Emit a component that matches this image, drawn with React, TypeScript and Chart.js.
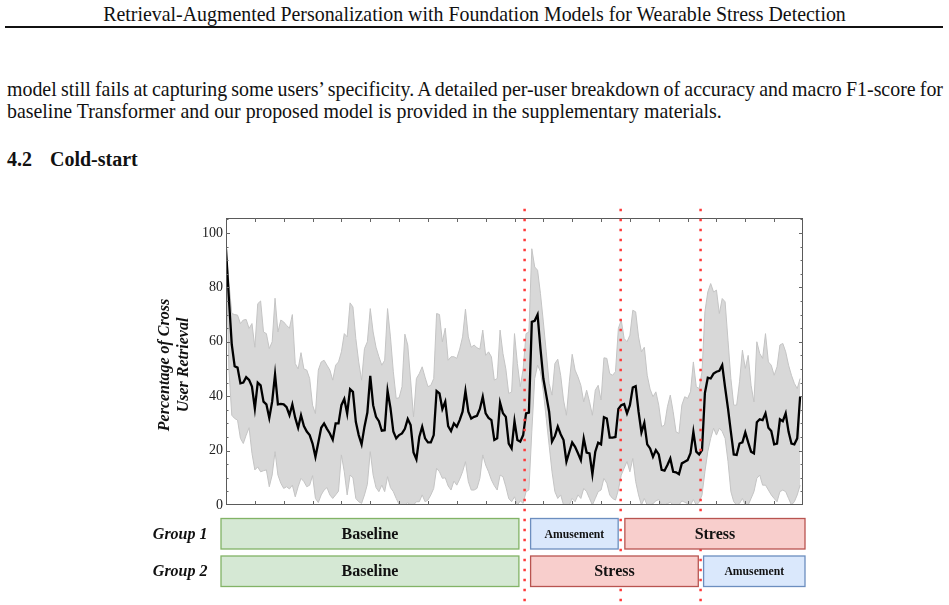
import { useEffect, useRef } from "react";
import { Chart, registerables } from "chart.js";

Chart.register(...registerables);

// Mean share of cross-user retrieval per window, with its spread band.
const meanRetrieval = [
  94, 76, 59, 51, 50.5, 44.7, 45, 47, 46, 43.5,
  35.5, 45, 44, 38, 37, 32, 38, 48, 37, 37.2,
  37, 36, 33, 37, 32, 28.4, 33, 29, 27, 25.7,
  22.6, 17.7, 23, 28.4, 30, 28, 26.3, 24, 30, 30,
  36.7, 39, 33.6, 42.6, 41.6, 30.6, 25.7, 22.3, 28.8, 34,
  47.5, 36.7, 32.4, 30.8, 27.3, 27.5, 42, 35.7, 27, 24.5,
  25.7, 26.3, 28, 31.6, 29.4, 19.3, 16.8, 25, 28.8, 24.5,
  23, 23, 25.7, 41.9, 41, 35.3, 38, 29, 27.2, 30,
  28.8, 31.2, 34.3, 41.9, 34.3, 31.8, 32.4, 32.8, 35.3, 39.8,
  33.7, 32, 31.2, 23.9, 24.5, 37.6, 33.7, 32.4, 22.6, 20.8,
  30.8, 23.9, 23.3, 25.7, 33.7, 34,
  67.3, 67.7, 70, 57.5, 46.5, 40.4, 34.3, 23.3, 25.3, 28.8,
  26, 23.9, 16, 19.5, 23, 21.4, 19, 16.5, 24.5, 19.3,
  19, 11.3, 19.6, 22.9, 22.3, 32.3, 31.8, 24.8, 24.8, 25,
  35.3, 36.7, 37.1, 33.7, 36.7, 43.2, 43.7, 34.3, 26.7, 30.2,
  22.3, 20.8, 17.7, 20.2, 18.6, 12.9, 12.6, 14.7, 17.1, 12.2,
  12, 11.3, 15.3, 15.9, 16.5, 19, 26.9, 19.6, 18.6, 20.2,
  41.2, 46.8, 46.5, 48.3, 49, 49.3, 51.4, 43.2, 35.5, 26.9,
  18.6, 18.4, 22.6, 23, 26.7, 23, 19.6, 19, 30.4, 31.5,
  31.2, 33.7, 28.4, 27.2, 22.3, 22.6, 31.5, 30.8, 33.7, 26.9,
  22.6, 22.3, 24.5, 39.8,
];

const upperBand = [
  94, 82, 70.4, 70, 69.8, 66.7, 68, 68.2, 64.9, 66.7,
  58, 74, 75, 63.6, 63, 57.5, 60, 76, 63.6, 68,
  67.3, 66, 65, 70, 52, 50, 56, 50, 49.6, 46.5,
  36.7, 33.6, 49.6, 52.6, 53.2, 51.4, 49.6, 45.9, 51.4, 52.6,
  56.3, 63, 61.8, 74.3, 72.8, 61.2, 52.6, 45.9, 57.5, 60,
  72.2, 63.6, 58, 54.5, 51.4, 53.2, 72.2, 61.8, 49, 39.2,
  39.4, 43.5, 62.8, 58.8, 45.9, 32.4, 46.5, 48.3, 50.8, 47,
  43.5, 44, 46.5, 70.4, 70, 60, 65, 53.2, 54.5, 54.5,
  53.9, 57.3, 61.8, 72, 61.8, 58, 58.8, 57.8, 57.3, 64.3,
  55, 56.3, 54.5, 45.9, 46.5, 64.3, 55.7, 50, 41, 41.6,
  63, 52, 43.5, 50, 63, 63.6,
  94.2, 87.5, 86.3, 77.7, 67.3, 56.3, 44.7, 40.4, 52, 53.6,
  47.7, 38.6, 33, 45.3, 55.4, 49.6, 47.1, 44, 37.9, 42.2,
  38, 33, 42.2, 44, 38.6, 54.1, 53.9, 48.3, 47.7, 49,
  64.9, 68, 61.2, 60, 62.4, 71.6, 71, 61.8, 56.3, 58,
  47.7, 42.6, 39.8, 41.6, 36.7, 28.8, 29.4, 36.1, 40.4, 34.3,
  26.9, 26.3, 36.7, 39.8, 39.2, 41.6, 52.6, 43.5, 42.8, 49,
  71, 78.3, 81.4, 78.3, 79, 70.4, 75.9, 74.7, 60.6, 46.5,
  36.7, 36.7, 45.3, 56.9, 50.2, 55, 44, 37.9, 60, 55.7,
  53.9, 63, 52.6, 51.4, 47.7, 50.8, 58.8, 59.4, 56.3, 51.4,
  47.7, 44.7, 42.8, 46.5,
];

const lowerBand = [
  94, 50, 33, 31.8, 31.2, 24.5, 22.6, 25.7, 28.4, 19,
  12.9, 14, 12.2, 12.6, 12.9, 6.7, 11, 19.6, 11, 8,
  6.1, 6.7, 5.9, 7.3, 3, 6.7, 9.8, 8.6, 6.7, 7.3,
  10.8, 2.4, 0.9, 3.7, 5.5, 6.4, 3.7, 2.4, 3.7, 5.1,
  18.4, 12.2, 3.7, 11, 10, 2.4, 1.2, 0.6, 3.7, 7.6,
  19.6, 11, 6.4, 4.9, 7.3, 4.9, 10.4, 6.4, 4.9, 2.4,
  0.2, 0, 0, 0.8, 0, 0, 1.2, 1.2, 3.7, 1.2,
  1.8, 3.7, 6.1, 13.5, 12.2, 9.8, 10, 7, 5.5, 8.8,
  7.3, 9.5, 12.2, 15.9, 8.6, 5.5, 5.5, 6.1, 9.8, 18.4,
  14.7, 12.2, 9.2, 7.1, 5.5, 11, 10.4, 6.7, 2.4, 1.2,
  3, 0, 1.5, 0.6, 4.9, 5.5,
  26.9, 46.5, 51.4, 49, 41.6, 31.8, 22, 12.2, 4.9, 2.4,
  3.7, 0, 0, 0, 2.4, 1.2, 3.7, 2.4, 6.1, 4.9,
  2.4, 0, 2.4, 4.9, 5.5, 9.8, 8, 3.7, 2.4, 1.8,
  5.5, 11, 13.5, 16, 12.2, 17.1, 8.6, 3.7, 0, 2.4,
  0, 0, 0.5, 1.5, 2, 0, 0, 0.5, 1, 0,
  0, 0, 1.5, 1, 0.5, 0, 2, 0, 1, 3.7,
  12.2, 19.6, 24.5, 28.2, 25.7, 28.2, 27, 24.5, 16, 4.9,
  1.2, 0, 0.6, 2.4, 0, 0, 2.4, 4.9, 9.8, 11,
  7.3, 7.3, 5.5, 3.7, 2.4, 1.2, 4.9, 5.5, 4.9, 2.4,
  0, 1.2, 3.7, 7.3,
];

const yTickValues = [0, 20, 40, 60, 80, 100];
const X_MAX = 200;
const Y_MAX = 105.5;

// Window indices where the protocol switches phase.
const phaseBoundaries = [103.5, 136.8, 164.5];

// Each phase spans from one edge to another: 0 = axis start, 1..3 = boundaries, 4 = axis end.
const group1Phases = [
  { label: "Baseline", from: 0, to: 1 },
  { label: "Amusement", from: 1, to: 2 },
  { label: "Stress", from: 2, to: 4 },
];
const group2Phases = [
  { label: "Baseline", from: 0, to: 1 },
  { label: "Stress", from: 1, to: 3 },
  { label: "Amusement", from: 3, to: 4 },
];
const groupNames = ["Group 1", "Group 2"];

const CANVAS_TOP = 200;
const SERIF = '"Liberation Serif", "Times New Roman", serif';

const phaseStyle: Record<string, { fill: string; stroke: string; font: string }> = {
  Baseline: { fill: "#d5e8d4", stroke: "#82b366", font: `bold 16px ${SERIF}` },
  Amusement: { fill: "#dae8fc", stroke: "#6c8ebf", font: `bold 11.7px ${SERIF}` },
  Stress: { fill: "#f8cecc", stroke: "#b85450", font: `bold 16px ${SERIF}` },
};

// gap between a box and the edge it starts after / ends before
const leftInset = [-5, 6, 4.2, 3];
const rightInset = [5.7, 2.5, 2.3, -2];

const overlay = {
  id: "overlay",
  afterDraw(chart: any) {
    const { ctx, chartArea: a, scales } = chart;
    const xs = scales.x;
    const ys = scales.y;
    ctx.save();

    // frame
    ctx.strokeStyle = "#5a5a5a";
    ctx.lineWidth = 1;
    ctx.strokeRect(a.left + 0.5, a.top + 0.5, a.right - a.left - 1, a.bottom - a.top - 1);

    // inward ticks on all four sides
    ctx.strokeStyle = "#666";
    ctx.beginPath();
    for (let v = 10; v < X_MAX; v += 10) {
      const px = Math.round(xs.getPixelForValue(v)) + 0.5;
      ctx.moveTo(px, a.bottom);
      ctx.lineTo(px, a.bottom - 4);
      ctx.moveTo(px, a.top);
      ctx.lineTo(px, a.top + 4);
    }
    for (let v = 5; v < Y_MAX; v += 5) {
      const py = Math.round(ys.getPixelForValue(v)) + 0.5;
      const len = v % 20 === 0 ? 4 : 2.5;
      ctx.moveTo(a.left, py);
      ctx.lineTo(a.left + len, py);
      ctx.moveTo(a.right, py);
      ctx.lineTo(a.right - len, py);
    }
    ctx.stroke();

    // dotted phase boundaries running through the plot and the phase rows
    ctx.fillStyle = "#ff3b3b";
    const bx = phaseBoundaries.map((b) => xs.getPixelForValue(b));
    for (const x of bx) {
      for (let y = 10; y <= chart.height - 4; y += 10) {
        ctx.fillRect(x - 1.25, y - 1.25, 2.5, 2.5);
      }
    }

    // phase rows
    const edges = [xs.getPixelForValue(0), ...bx, xs.getPixelForValue(X_MAX)];
    const rows = [
      { phases: group1Phases, top: 318.5, bottom: 349 },
      { phases: group2Phases, top: 356, bottom: 386.5 },
    ];
    rows.forEach((row, r) => {
      const cy = (row.top + row.bottom) / 2;
      ctx.font = `italic bold 16px ${SERIF}`;
      ctx.fillStyle = "#111";
      ctx.textAlign = "right";
      ctx.textBaseline = "middle";
      ctx.fillText(groupNames[r], 207.5, cy + 1);

      for (const p of row.phases) {
        const st = phaseStyle[p.label];
        const x0 = edges[p.from] + leftInset[p.from];
        const x1 = edges[p.to] - rightInset[p.to - 1];
        ctx.fillStyle = st.fill;
        ctx.fillRect(x0, row.top, x1 - x0, row.bottom - row.top);
        ctx.strokeStyle = st.stroke;
        ctx.lineWidth = 1.3;
        ctx.strokeRect(x0, row.top, x1 - x0, row.bottom - row.top);
        ctx.fillStyle = "#111";
        ctx.font = st.font;
        ctx.textAlign = "center";
        ctx.fillText(p.label, (x0 + x1) / 2, cy + 1);
      }
    });

    // y-axis title
    ctx.translate(0, 165);
    ctx.rotate(-Math.PI / 2);
    ctx.font = `italic bold 16px ${SERIF}`;
    ctx.fillStyle = "#111";
    ctx.textAlign = "center";
    ctx.textBaseline = "middle";
    ctx.fillText("Percentage of Cross", 0, 165);
    ctx.fillText("User Retrieval", 0, 183.5);
    ctx.restore();
  },
};

function RetrievalChart() {
  const ref = useRef<HTMLCanvasElement>(null);
  useEffect(() => {
    if (!ref.current) return;
    const toPoints = (arr: number[]) => arr.map((y, x) => ({ x, y }));
    const chart = new Chart(ref.current, {
      type: "line",
      data: {
        datasets: [
          {
            data: toPoints(upperBand),
            borderColor: "#c4c4c4",
            borderWidth: 1,
            backgroundColor: "#d8d8d8",
            fill: "+1",
            pointRadius: 0,
            order: 2,
          },
          {
            data: toPoints(lowerBand),
            borderColor: "#c4c4c4",
            borderWidth: 1,
            fill: false,
            pointRadius: 0,
            order: 1,
          },
          {
            data: toPoints(meanRetrieval),
            borderColor: "#000",
            borderWidth: 2.3,
            fill: false,
            pointRadius: 0,
            order: 0,
          },
        ],
      },
      options: {
        animation: false,
        responsive: false,
        events: [],
        layout: { padding: { left: 0, top: 18, right: 146, bottom: 100 } },
        plugins: { legend: { display: false }, tooltip: { enabled: false } },
        scales: {
          x: { type: "linear", min: 0, max: X_MAX, display: false },
          y: {
            min: 0,
            max: Y_MAX,
            afterFit: (scale: any) => {
              scale.width = 226;
            },
            afterBuildTicks: (scale: any) => {
              scale.ticks = yTickValues.map((value) => ({ value }));
            },
            grid: { display: false, drawTicks: false },
            border: { display: false },
            ticks: {
              padding: 3,
              color: "#222",
              font: { family: SERIF, size: 14 },
            },
          },
        },
      },
      plugins: [overlay],
    });
    return () => chart.destroy();
  }, []);
  return (
    <canvas
      ref={ref}
      width={949}
      height={405}
      style={{ position: "absolute", left: 0, top: CANVAS_TOP, width: 949, height: 405 }}
    />
  );
}

const textBase: React.CSSProperties = {
  position: "absolute",
  fontFamily: SERIF,
  fontSize: 19.9,
  lineHeight: "22px",
  color: "#111",
  whiteSpace: "nowrap",
};

export default function App() {
  return (
    <div style={{ position: "fixed", left: 0, top: 0, width: 949, height: 605, background: "#fff", overflow: "hidden" }}>
      <div style={{ ...textBase, left: 0, width: 949, top: 3, textAlign: "center" }}>
        Retrieval-Augmented Personalization with Foundation Models for Wearable Stress Detection
      </div>
      <div style={{ position: "absolute", left: 5, width: 938, top: 26, height: 1.5, background: "#111" }} />
      <div
        style={{
          ...textBase,
          left: 7,
          width: 936,
          top: 78,
          whiteSpace: "normal",
          wordSpacing: -3,
          textAlign: "justify",
          textAlignLast: "justify",
        }}
      >
        model still fails at capturing some users’ specificity. A detailed per-user breakdown of accuracy and macro F1-score for
      </div>
      <div style={{ ...textBase, left: 7, top: 100 }}>
        baseline Transformer and our proposed model is provided in the supplementary materials.
      </div>
      <div style={{ ...textBase, left: 7, top: 148, fontWeight: "bold", fontSize: 20 }}>
        4.2<span style={{ display: "inline-block", width: 18 }} />Cold-start
      </div>
      <RetrievalChart />
    </div>
  );
}
